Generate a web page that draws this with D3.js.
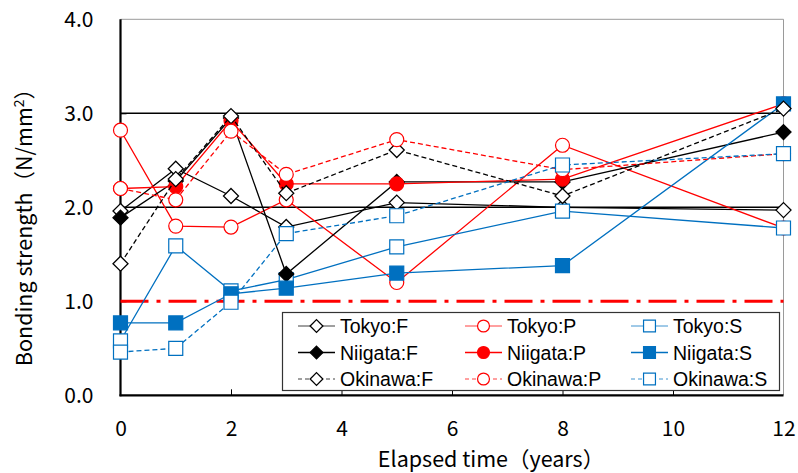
<!DOCTYPE html>
<html>
<head>
<meta charset="utf-8">
<script src="https://cdn.jsdelivr.net/npm/d3@7"></script>
<style>
  html, body { margin: 0; padding: 0; background: #fff; }
  svg text { font-family: "Noto Sans CJK JP", "Noto Sans", sans-serif; fill: #000; }
  svg text.legend-label { font-family: "Liberation Sans", Arial, sans-serif; }
</style>
</head>
<body>
<svg id="chart" width="798" height="473"></svg>
<script>
// Elapsed years at which bonding strength was measured
const years = [0, 1, 2, 3, 5, 8, 12];

// Bonding strength (N/mm²) per site and specimen type
const tokyoF   = [1.96, 2.41, 2.12, 1.79, 2.05, 2.00, 1.97];
const tokyoP   = [2.82, 1.80, 1.79, 2.08, 1.20, 2.66, 1.78];
const tokyoS   = [0.58, 1.59, 1.11, 1.23, 1.58, 1.96, 1.78];
const niigataF = [1.89, 2.28, 2.95, 1.29, 2.27, 2.27, 2.80];
const niigataP = [2.20, 2.22, 2.92, 2.25, 2.25, 2.30, 3.10];
const niigataS = [0.77, 0.77, 1.08, 1.14, 1.30, 1.38, 3.10];
const okinawaF = [1.40, 2.30, 2.97, 2.15, 2.61, 2.12, 3.05];
const okinawaP = [2.20, 2.08, 2.81, 2.35, 2.72, 2.40, 2.57];
const okinawaS = [0.46, 0.50, 0.99, 1.72, 1.91, 2.45, 2.57];

const xTicks = [0, 2, 4, 6, 8, 10, 12];
const yTicks = [0, 1, 2, 3, 4];
const gridValues = [2, 3];
const referenceValue = 1.0;

const seriesNames = ["Tokyo:F", "Tokyo:P", "Tokyo:S",
                     "Niigata:F", "Niigata:P", "Niigata:S",
                     "Okinawa:F", "Okinawa:P", "Okinawa:S"];
const seriesValues = [tokyoF, tokyoP, tokyoS, niigataF, niigataP, niigataS, okinawaF, okinawaP, okinawaS];

const RED = "#ff0000", BLUE = "#0070c0", BLACK = "#000000";
const styleOf = name => {
  const [site, type] = name.split(":");
  const color = type === "F" ? BLACK : type === "P" ? RED : BLUE;
  const shape = type === "F" ? "diamond" : type === "P" ? "circle" : "square";
  return {
    color, shape,
    filled: site === "Niigata",
    dashed: site === "Okinawa"
  };
};

const series = seriesNames.map((name, i) => ({
  name, ...styleOf(name),
  points: years.map((t, j) => ({ t, v: seriesValues[i][j] }))
}));

const svg = d3.select("#chart");
const plotLeft = 120.5, plotRight = 783.5, plotTop = 19.3, plotBottom = 395.3;

const x = d3.scaleLinear().domain([0, 12]).range([plotLeft, plotRight]);
const y = d3.scaleLinear().domain([0, 4]).range([plotBottom, plotTop]);

// plot frame: light right/top border
svg.append("line").attr("x1", plotLeft).attr("x2", plotRight).attr("y1", plotTop).attr("y2", plotTop)
  .attr("stroke", "#9a9a9a").attr("stroke-width", 1);
svg.append("line").attr("x1", plotRight).attr("x2", plotRight).attr("y1", plotTop).attr("y2", plotBottom)
  .attr("stroke", "#9a9a9a").attr("stroke-width", 1);

// horizontal grid lines
svg.append("g").selectAll("line").data(gridValues).join("line")
  .attr("x1", plotLeft).attr("x2", plotRight)
  .attr("y1", d => y(d)).attr("y2", d => y(d))
  .attr("stroke", BLACK).attr("stroke-width", 1.5);

// axes with inward ticks
const xAxis = d3.axisBottom(x).tickValues(xTicks).tickSize(-6).tickPadding(18)
  .tickFormat(d3.format("d"));
const gx = svg.append("g").attr("transform", `translate(0,${plotBottom})`).call(xAxis);
gx.select(".domain").attr("stroke", BLACK).attr("stroke-width", 2.2)
  .attr("d", `M${plotLeft - 1},0H${plotRight}`);
gx.selectAll(".tick line").attr("stroke", BLACK).attr("stroke-width", 1)
  .filter(d => d === 0 || d === 12).remove();
gx.selectAll(".tick text").attr("font-size", 21).attr("dy", "0.71em").attr("y", 26);

const yAxis = d3.axisLeft(y).tickValues(yTicks).tickSize(-6).tickPadding(28)
  .tickFormat(d3.format(".1f"));
const gy = svg.append("g").attr("transform", `translate(${plotLeft},0)`).call(yAxis);
gy.select(".domain").attr("stroke", BLACK).attr("stroke-width", 2.2)
  .attr("d", `M0,${plotTop}V${plotBottom + 1}`);
gy.selectAll(".tick line").attr("stroke", BLACK).attr("stroke-width", 1)
  .filter(d => d === 0 || d === 4).remove();
gy.selectAll(".tick text").attr("font-size", 21).attr("x", -27);

// reference line at 1.0 N/mm²
svg.append("line")
  .attr("x1", plotLeft).attr("x2", plotRight)
  .attr("y1", y(referenceValue)).attr("y2", y(referenceValue))
  .attr("stroke", RED).attr("stroke-width", 3)
  .attr("stroke-dasharray", "28,8,4,8");

// axis titles
svg.append("text").attr("x", 491).attr("y", 467)
  .attr("text-anchor", "middle").attr("font-size", 21.5)
  .text("Elapsed time（years）");
svg.append("text")
  .attr("transform", `translate(32,222) rotate(-90)`)
  .attr("text-anchor", "middle").attr("font-size", 21.5)
  .html('Bonding strength（N/mm<tspan dy="-8" font-size="14">2</tspan><tspan dy="8">）</tspan>');

// marker shapes: square-proportioned diamond, circle, square
const markerPath = {
  diamond: r => `M0,${-r}L${r},0L0,${r}L${-r},0Z`,
  circle: r => d3.symbol().type(d3.symbolCircle).size(Math.PI * r * r)(),
  square: r => `M${-r},${-r}H${r}V${r}H${-r}Z`
};
const markerRadius = { diamond: 7.5, circle: 7, square: 7 };

function drawMarker(sel, s, scale) {
  sel.attr("d", markerPath[s.shape](markerRadius[s.shape] * scale))
    .attr("fill", s.filled ? s.color : "#fff")
    .attr("stroke", s.color)
    .attr("stroke-width", s.shape === "diamond" ? 1.3 : 1.2);
}

const line = d3.line().x(d => x(d.t)).y(d => y(d.v));

// one layer per series: line, then its markers
const layers = svg.append("g").selectAll("g").data(series).join("g");
layers.append("path")
  .attr("d", s => line(s.points))
  .attr("fill", "none")
  .attr("stroke", s => s.color)
  .attr("stroke-width", 1.3)
  .attr("stroke-dasharray", s => s.dashed ? "5,3" : null);
layers.each(function (s) {
  d3.select(this).selectAll("path.marker").data(s.points).join("path")
    .attr("class", "marker")
    .attr("transform", d => `translate(${x(d.t)},${y(d.v)})`)
    .call(sel => drawMarker(sel, s, 1));
});

// legend
const lg = svg.append("g");
lg.append("rect").attr("x", 282.5).attr("y", 312.5).attr("width", 497).attr("height", 78)
  .attr("fill", "#fff").attr("stroke", "#333").attr("stroke-width", 1.2);
const colX = [298, 465, 631];
const rowY = [326, 352.5, 379];
series.forEach((s, i) => {
  const cx = colX[i % 3], cy = rowY[Math.floor(i / 3)];
  const g = lg.append("g").attr("transform", `translate(${cx},${cy})`);
  g.append("line").attr("x1", 0).attr("x2", 37).attr("y1", 0).attr("y2", 0)
    .attr("stroke", s.color).attr("stroke-width", s.filled ? 1.3 : 1)
    .attr("stroke-opacity", s.filled ? 1 : 0.75)
    .attr("stroke-dasharray", s.dashed ? "4,3" : null);
  g.append("path").attr("transform", "translate(18.5,0)").call(sel => drawMarker(sel, s, 0.85));
  g.append("text").attr("class", "legend-label").attr("x", 42).attr("y", 0).attr("dy", "0.36em")
    .attr("font-size", 19.5).text(s.name);
});
</script>
</body>
</html>
